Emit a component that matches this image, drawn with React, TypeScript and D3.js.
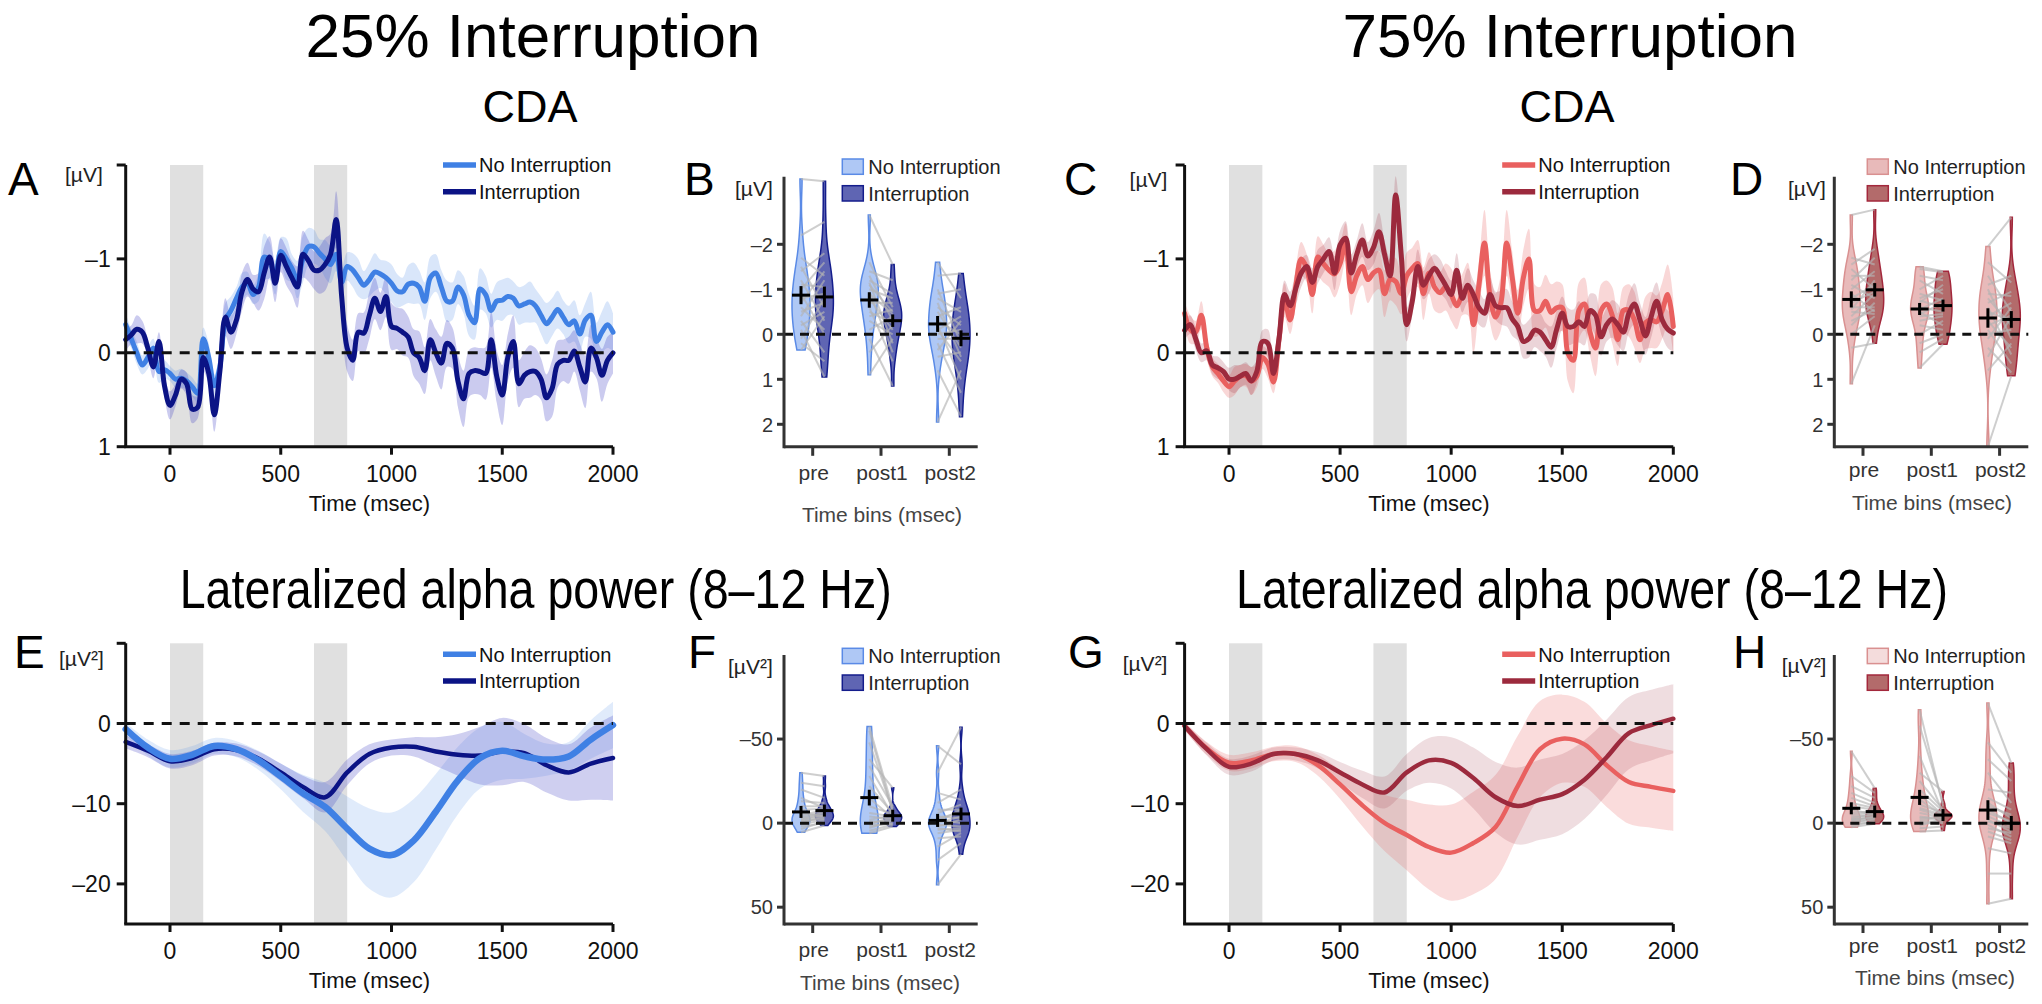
import React from 'react';
import * as d3 from 'd3';

const FONT = "'Liberation Sans', Arial, Helvetica, sans-serif";

// ---------------- axes / labels ----------------
const CDA_TIME = d3.range(-200, 2001, 25);
const ALPHA_TIME = d3.range(-200, 2001, 100);
const TIME_TICKS = [0, 500, 1000, 1500, 2000];
const SHADED_WINDOWS = [[0, 150], [650, 800]];
const BIN_LABELS = ['pre', 'post1', 'post2'];
const LEGEND_LABELS = ['No Interruption', 'Interruption'];
const CDA_Y_LABELS = [-1, 0, 1];
const CDA_Y_MARKS = [-2, -1, 0, 1];
const ALPHA_Y_LABELS = [0, -10, -20];
const ALPHA_Y_MARKS = [10, 0, -10, -20];
const CDA_BIN_TICKS = [-2, -1, 0, 1, 2];
const ALPHA_BIN_TICKS = [-50, 0, 50];

// ---------------- CDA time courses (µV, 25 ms steps from -200 to 2000) ----------------
const CDA25_NOINT = [
  -0.30, -0.15, 0.00, 0.13, 0.05, -0.05, 0.20, 0.18,
  0.22, 0.28, 0.27, 0.30, 0.36, 0.43, -0.15, 0.05,
  0.35, 0.15, -0.35, -0.45, -0.58, -0.70, -0.74, -0.62,
  -0.70, -1.02, -0.98, -0.80, -1.08, -1.00, -0.90, -0.78,
  -1.00, -1.13, -1.13, -1.06, -1.00, -0.94, -1.05, -0.75,
  -0.92, -0.88, -0.80, -0.72, -0.78, -0.86, -0.84, -0.80,
  -0.74, -0.66, -0.65, -0.73, -0.74, -0.70, -0.55, -0.80,
  -0.85, -0.70, -0.55, -0.55, -0.70, -0.62, -0.40, -0.32,
  -0.68, -0.62, -0.45, -0.55, -0.56, -0.60, -0.58, -0.50,
  -0.52, -0.54, -0.50, -0.40, -0.31, -0.38, -0.46, -0.38,
  -0.30, -0.34, -0.20, -0.35, -0.40, -0.12, -0.22, -0.30,
  -0.22,
];
const CDA25_NOINT_SE = [
  0.12, 0.10, 0.12, 0.10, 0.12, 0.10, 0.12, 0.10,
  0.08, 0.09, 0.10, 0.09, 0.10, 0.10, 0.12, 0.15,
  0.12, 0.15, 0.18, 0.15, 0.12, 0.15, 0.12, 0.10,
  0.15, 0.25, 0.20, 0.18, 0.15, 0.22, 0.15, 0.20,
  0.25, 0.20, 0.18, 0.15, 0.20, 0.20, 0.18, 0.15,
  0.15, 0.18, 0.20, 0.15, 0.18, 0.20, 0.15, 0.18,
  0.20, 0.18, 0.15, 0.20, 0.22, 0.18, 0.20, 0.22,
  0.20, 0.18, 0.22, 0.20, 0.18, 0.20, 0.22, 0.18,
  0.22, 0.20, 0.18, 0.20, 0.22, 0.20, 0.18, 0.20,
  0.20, 0.22, 0.18, 0.20, 0.22, 0.20, 0.20, 0.18,
  0.20, 0.22, 0.20, 0.18, 0.25, 0.20, 0.22, 0.25,
  0.20,
];
const CDA25_INT = [
  -0.14, -0.19, -0.25, -0.22, -0.05, 0.15, -0.12, 0.35,
  0.56, 0.45, 0.28, 0.33, 0.60, 0.58, 0.05, 0.22,
  0.66, 0.20, -0.38, -0.22, -0.35, -0.65, -0.78, -0.68,
  -0.65, -0.85, -1.02, -0.74, -1.04, -0.92, -0.80, -0.70,
  -1.05, -0.98, -0.88, -0.88, -0.94, -1.05, -1.42, -0.60,
  -0.05, 0.08, -0.22, -0.21, -0.40, -0.58, -0.44, -0.60,
  -0.28, -0.26, -0.22, -0.17, 0.00, 0.05, 0.19, -0.14,
  0.00, 0.11, -0.10, -0.05, 0.30, 0.49, 0.22, 0.19,
  0.20, 0.22, -0.14, 0.25, 0.45, 0.05, -0.12, 0.33,
  0.24, 0.20, 0.20, 0.28, 0.48, 0.38, 0.12, 0.08,
  0.08, -0.02, 0.15, 0.31, -0.05, 0.05, 0.24, 0.08,
  0.00,
];
const CDA25_INT_SE = [
  0.12, 0.10, 0.15, 0.12, 0.10, 0.12, 0.10, 0.12,
  0.15, 0.12, 0.10, 0.12, 0.15, 0.12, 0.15, 0.12,
  0.18, 0.15, 0.20, 0.18, 0.15, 0.20, 0.18, 0.15,
  0.20, 0.28, 0.22, 0.20, 0.18, 0.20, 0.18, 0.22,
  0.25, 0.22, 0.20, 0.25, 0.28, 0.22, 0.30, 0.25,
  0.25, 0.22, 0.20, 0.22, 0.25, 0.22, 0.20, 0.22,
  0.25, 0.22, 0.25, 0.22, 0.25, 0.28, 0.25, 0.22,
  0.25, 0.28, 0.25, 0.22, 0.28, 0.30, 0.25, 0.25,
  0.25, 0.28, 0.30, 0.28, 0.32, 0.25, 0.28, 0.25,
  0.25, 0.28, 0.25, 0.22, 0.25, 0.30, 0.25, 0.22,
  0.25, 0.22, 0.25, 0.28, 0.25, 0.22, 0.28, 0.25,
  0.22,
];
const CDA75_NOINT = [
  -0.42, -0.25, -0.22, -0.40, -0.05, 0.15, 0.22, 0.30,
  0.36, 0.30, 0.25, 0.24, 0.30, 0.25, 0.05, 0.12,
  0.31, -0.14, -0.56, -0.35, -0.70, -1.00, -0.90, -0.62,
  -1.02, -0.95, -0.88, -0.84, -0.95, -1.18, -0.65, -0.82,
  -0.92, -0.78, -0.85, -0.88, -0.63, -0.78, -0.76, -0.63,
  -0.82, -0.90, -0.95, -0.63, -0.85, -0.70, -0.64, -0.70,
  -0.62, -0.50, -0.62, -0.68, -0.30, -0.72, -1.17, -0.60,
  -0.38, -0.55, -1.17, -0.80, -0.42, -0.80, -1.00, -0.45,
  -0.45, -0.55, -0.43, -0.48, -0.48, 0.00, 0.08, -0.45,
  -0.52, -0.22, -0.05, -0.45, -0.52, -0.40, -0.14, -0.45,
  -0.45, -0.35, -0.14, -0.32, -0.35, -0.33, -0.45, -0.62,
  -0.28,
];
const CDA75_NOINT_SE = [
  0.12, 0.15, 0.12, 0.15, 0.12, 0.10, 0.10, 0.12,
  0.12, 0.15, 0.12, 0.12, 0.15, 0.12, 0.12, 0.15,
  0.12, 0.15, 0.18, 0.15, 0.20, 0.18, 0.15, 0.20,
  0.22, 0.20, 0.18, 0.25, 0.22, 0.20, 0.25, 0.20,
  0.20, 0.25, 0.22, 0.20, 0.25, 0.22, 0.25, 0.22,
  0.25, 0.22, 0.25, 0.28, 0.22, 0.25, 0.22, 0.25,
  0.28, 0.25, 0.22, 0.28, 0.30, 0.25, 0.35, 0.28,
  0.25, 0.30, 0.35, 0.28, 0.25, 0.30, 0.32, 0.28,
  0.25, 0.28, 0.30, 0.28, 0.25, 0.30, 0.35, 0.30,
  0.28, 0.25, 0.30, 0.28, 0.25, 0.30, 0.28, 0.25,
  0.28, 0.30, 0.25, 0.28, 0.30, 0.28, 0.30, 0.32,
  0.30,
];
const CDA75_INT = [
  -0.24, -0.30, -0.15, 0.00, -0.02, 0.13, 0.16, 0.20,
  0.28, 0.28, 0.25, 0.22, 0.30, 0.20, -0.12, -0.10,
  0.22, -0.15, -0.62, -0.50, -0.68, -0.85, -0.92, -0.75,
  -0.92, -1.00, -1.08, -0.85, -1.15, -1.22, -0.85, -1.05,
  -1.20, -1.03, -1.12, -1.29, -1.05, -0.82, -1.68, -1.05,
  -0.30, -0.55, -0.92, -0.72, -0.82, -0.90, -0.82, -0.72,
  -0.62, -0.88, -0.58, -0.72, -0.62, -0.48, -0.42, -0.62,
  -0.50, -0.48, -0.48, -0.36, -0.28, -0.12, -0.15, -0.24,
  -0.22, -0.14, -0.06, -0.25, -0.42, -0.28, -0.28, -0.33,
  -0.28, -0.45, -0.40, -0.17, -0.30, -0.36, -0.30, -0.22,
  -0.42, -0.52, -0.35, -0.18, -0.38, -0.55, -0.35, -0.25,
  -0.21,
];
const CDA75_INT_SE = [
  0.10, 0.10, 0.12, 0.10, 0.10, 0.10, 0.12, 0.10,
  0.12, 0.15, 0.12, 0.12, 0.15, 0.12, 0.12, 0.15,
  0.12, 0.12, 0.15, 0.15, 0.18, 0.15, 0.12, 0.15,
  0.18, 0.15, 0.15, 0.18, 0.15, 0.18, 0.20, 0.15,
  0.18, 0.15, 0.18, 0.20, 0.15, 0.18, 0.20, 0.22,
  0.18, 0.15, 0.18, 0.15, 0.18, 0.15, 0.18, 0.15,
  0.15, 0.18, 0.15, 0.18, 0.15, 0.18, 0.15, 0.18,
  0.15, 0.18, 0.20, 0.18, 0.15, 0.18, 0.20, 0.18,
  0.20, 0.18, 0.22, 0.20, 0.18, 0.20, 0.18, 0.22,
  0.20, 0.18, 0.22, 0.20, 0.18, 0.20, 0.22, 0.20,
  0.20, 0.22, 0.18, 0.20, 0.22, 0.20, 0.18, 0.20,
  0.20,
];

// ---------------- lateralized alpha power (µV², 100 ms steps from -200 to 2000) ----------------
const ALPHA25_NOINT = [-0.7, -3.0, -4.4, -3.9, -2.8, -3.2, -4.6, -6.6, -8.7, -10.4, -13.1, -15.6, -16.4, -14.6, -11.0, -7.1, -4.3, -3.4, -4.1, -4.5, -4.1, -2.0, -0.2];
const ALPHA25_NOINT_SE = [0.8, 1.0, 1.1, 1.1, 1.0, 1.0, 1.2, 1.6, 2.3, 3.0, 4.0, 5.0, 5.3, 5.2, 4.7, 4.2, 3.8, 3.6, 2.8, 2.0, 1.8, 2.4, 2.9];
const ALPHA25_INT = [-2.3, -3.4, -4.7, -4.3, -3.2, -3.3, -4.4, -6.1, -7.9, -9.2, -6.1, -3.8, -3.0, -2.9, -3.5, -3.9, -4.0, -3.5, -3.7, -5.2, -6.1, -5.0, -4.3];
const ALPHA25_INT_SE = [0.8, 0.8, 0.9, 0.9, 0.8, 0.8, 0.9, 1.1, 1.4, 1.9, 1.6, 1.2, 1.0, 1.2, 1.8, 2.6, 3.6, 4.2, 3.6, 3.4, 3.5, 4.5, 5.3];
const ALPHA75_NOINT = [-0.3, -3.1, -4.9, -4.6, -3.8, -3.8, -5.2, -7.6, -10.2, -12.4, -13.9, -15.4, -16.1, -14.9, -12.9, -7.8, -3.2, -1.9, -2.6, -5.2, -7.3, -7.9, -8.4];
const ALPHA75_NOINT_SE = [0.5, 0.8, 1.0, 1.0, 0.9, 1.0, 1.3, 1.8, 2.6, 3.5, 4.4, 5.3, 6.0, 6.4, 6.5, 6.3, 6.0, 5.5, 5.3, 5.2, 5.2, 5.1, 5.0];
const ALPHA75_INT = [-0.3, -3.2, -5.4, -5.0, -3.8, -3.8, -4.6, -6.1, -7.6, -8.6, -6.1, -4.6, -4.9, -6.8, -9.2, -10.3, -9.5, -8.8, -7.0, -4.2, -1.2, -0.2, 0.6];
const ALPHA75_INT_SE = [0.5, 0.8, 1.0, 1.0, 0.8, 0.8, 1.0, 1.3, 1.7, 2.0, 2.3, 2.8, 3.2, 3.8, 4.4, 4.8, 5.0, 5.0, 4.9, 4.7, 4.5, 4.4, 4.3];

// ---------------- per-subject bin averages (paired by index) ----------------
const CDA25_PRE_NOINT = [-3.45, -2.2, -1.7, -1.5, -1.4, -1.2, -1.1, -1.0, -0.9, -0.8, -0.7, -0.6, -0.5, -0.4, -0.3, -0.2, -0.1, 0.1, 0.2, 0.35];
const CDA25_PRE_INT = [-3.4, -2.5, -1.3, -0.6, -1.8, -0.3, -1.05, -1.6, 0.0, -0.9, -1.4, -0.1, -0.7, -1.2, 0.4, -0.5, 0.95, -0.8, 0.6, -0.4];
const CDA25_POST1_NOINT = [-2.65, -1.6, -1.4, -1.3, -1.2, -1.15, -1.1, -1.0, -0.95, -0.9, -0.8, -0.7, -0.6, -0.5, -0.4, -0.3, -0.1, 0.1, 0.4, 0.9];
const CDA25_POST1_INT = [-1.55, -0.6, -1.2, -0.3, -0.9, 0.2, -0.5, -0.8, 0.4, -0.45, -0.1, -0.7, 0.6, -0.25, -0.55, 0.0, -0.4, 1.15, -0.2, 0.1];
const CDA25_POST2_NOINT = [-1.6, -1.3, -1.0, -0.9, -0.8, -0.7, -0.6, -0.5, -0.4, -0.3, -0.2, -0.1, -0.1, 0.0, 0.1, 0.2, 0.35, 0.5, 0.8, 1.95];
const CDA25_POST2_INT = [-0.8, -1.35, 0.2, -1.0, -0.5, 0.5, -0.2, 0.3, -0.6, 0.0, 1.0, -0.4, 0.6, -0.1, 0.1, 1.3, -0.3, 0.4, 1.83, 0.8];

const CDA75_PRE_NOINT = [-2.65, -1.7, -1.55, -1.45, -1.3, -1.2, -1.1, -1.0, -0.9, -0.8, -0.7, -0.6, -0.55, -0.5, -0.4, -0.3, -0.2, 0.0, 0.3, 1.1];
const CDA75_PRE_INT = [-2.77, -1.55, -1.9, -1.0, -1.3, -1.7, -0.8, -1.4, -0.5, -1.1, -0.95, -0.6, -1.2, -0.45, -0.9, -0.55, -0.7, -0.4, 0.2, -0.2];
const CDA75_POST1_NOINT = [-1.5, -1.45, -1.3, -1.2, -1.0, -0.9, -0.8, -0.75, -0.7, -0.6, -0.55, -0.5, -0.45, -0.4, -0.3, -0.2, 0.0, 0.2, 0.4, 0.75];
const CDA75_POST1_INT = [-1.4, -1.38, -1.2, -0.9, -1.3, -0.75, -1.0, -0.6, -1.1, -0.5, -0.8, -0.2, -0.7, -0.45, -0.4, -0.1, -0.3, 0.0, 0.1, 0.22];
const CDA75_POST2_NOINT = [-1.95, -1.6, -1.3, -1.1, -1.0, -0.9, -0.8, -0.7, -0.6, -0.5, -0.4, -0.3, -0.2, -0.1, 0.0, 0.1, 0.3, 0.5, 0.8, 2.5];
const CDA75_POST2_INT = [-2.6, -1.15, -0.5, -1.3, 0.1, -0.85, -0.2, -0.95, 0.45, -0.3, -0.7, 0.3, -0.42, 0.65, -0.1, -0.6, 0.85, -0.4, 0.2, 0.92];

const ALPHA25_PRE_NOINT = [-30, -24, -20, -15, -13, -10, -8, -6, -5, -4, -3, -2.5, -2, -1.5, -1, 0, 1, 2, 3.5, 5.4];
const ALPHA25_PRE_INT = [-28, -22, -15, -9, -12, -10, -8.5, -4, -7.5, -6.5, -6, -5, -4.5, -3, -2.5, -4, -2, 0, -1, 1.4];
const ALPHA25_POST1_NOINT = [-57.5, -55, -48, -38, -34, -28, -22, -15, -10, -6, -4, -2, -1, 0, 0.5, 1, 2, 3, 4.5, 6];
const ALPHA25_POST1_INT = [-9, -6.5, -7.5, -21, -10, -4.5, -6, -3, -5.5, -4, -2.5, -4.5, -1, -2, -3.5, 0.5, 0, -1.5, 1, 2];
const ALPHA25_POST2_NOINT = [-46, -30, -18, -12, -8, -6, -4, -3, -2, -1, 0, 1, 2, 3, 4, 6, 9, 14, 22, 36.7];
const ALPHA25_POST2_INT = [-35, -57, -14, -20, -8, -11, -3, -6, 0, -8, -4, 2, -2, 5, 3, 4, 8, 6, 12, 18.5];

const ALPHA75_PRE_NOINT = [-42.7, -28, -22, -18, -15, -12, -10, -8, -6, -5, -4, -3, -2.5, -2, -1.5, -1, 0, 0.5, 1.5, 2.4];
const ALPHA75_PRE_INT = [-20.8, -18, -15, -12, -10, -9, -8, -5, -7, -6, -4.5, -5.5, -3, -4, -3.5, -2, -2.5, -0.5, -1, 0.4];
const ALPHA75_POST1_NOINT = [-67.5, -58, -40, -30, -25, -20, -17, -14, -11, -9, -8, -6, -4, -3, -2, -1, 0, 1.5, 3, 5];
const ALPHA75_POST1_INT = [-10, -12, -6, -18.8, -8, -7, -5, -4.5, -6, -5, -4, -3.5, -2, -4, -3, -1, 0, -2.5, 2, 4.4];
const ALPHA75_POST2_NOINT = [-71.4, -48, -38, -30, -20, -15, -12, -10, -8, -6, -4, -2, -1, 1, 3, 5, 8, 15, 30, 48];
const ALPHA75_POST2_INT = [-35.7, -30, -25, -12, -18, -8, -3, -5, 0, -1, 2, 5, 3, 8, 6, 10, 12, 18, 30, 45];

// ---------------- colours ----------------
const BLUE_LIGHT = '#3f80e4';
const BLUE_DARK = '#0b1385';
const BLUE_BAND = '#4646c4';
const RED_LIGHT = '#e9605f';
const RED_DARK = '#9c2a3d';

const curve = d3.curveCatmullRom.alpha(0.5);

function LinePanel(p: any) {
  const x = d3.scaleLinear().domain([-200, 2000]).range([p.x0, p.x1]);
  const y = d3.scaleLinear().domain(p.yDomain).range([p.yTop, p.yBot]);
  const band = (s: any) =>
    d3.area<number>()
      .x((_, i) => x(s.time[i]))
      .y0((d, i) => y(d - s.se[i]))
      .y1((d, i) => y(d + s.se[i]))
      .curve(curve)(s.mean);
  const line = (s: any) =>
    d3.line<number>()
      .x((_, i) => x(s.time[i]))
      .y((d) => y(d))
      .curve(curve)(s.mean);
  const axisColor = '#111';
  return (
    <g fontFamily={FONT}>
      {SHADED_WINDOWS.map(([a, b], i) => (
        <rect key={i} x={x(a)} y={p.yTop} width={x(b) - x(a)} height={p.yBot - p.yTop} fill="#e0e0e0" />
      ))}
      {p.series.map((s: any, i: number) => (
        <path key={'b' + i} d={band(s) || ''} fill={s.bandColor || s.color} fillOpacity={s.bandOpacity} stroke="none" />
      ))}
      {p.order.map((i: number) => {
        const s = p.series[i];
        return <path key={'l' + i} d={line(s) || ''} fill="none" stroke={s.color} strokeWidth={s.width} strokeLinejoin="round" strokeLinecap="round" />;
      })}
      <line x1={p.x0} x2={p.x1} y1={y(0)} y2={y(0)} stroke="#111" strokeWidth={3} strokeDasharray="10,8" />
      <line x1={p.x0} x2={p.x0} y1={p.yTop} y2={p.yBot} stroke={axisColor} strokeWidth={3} />
      <line x1={p.x0 - 1.5} x2={p.x1} y1={p.yBot} y2={p.yBot} stroke={axisColor} strokeWidth={3} />
      {p.yMarks.map((v: number) => (
        <line key={'ym' + v} x1={p.x0 - 9} x2={p.x0} y1={y(v)} y2={y(v)} stroke={axisColor} strokeWidth={3} />
      ))}
      {p.yLabels.map((v: number) => (
        <text key={'yl' + v} x={p.x0 - 15} y={y(v)} dy="0.36em" textAnchor="end" fontSize={23} fill="#111">
          {v < 0 ? '\u2013' + Math.abs(v) : String(v)}
        </text>
      ))}
      {TIME_TICKS.map((t) => (
        <g key={'xt' + t}>
          <line x1={x(t)} x2={x(t)} y1={p.yBot} y2={p.yBot + 8} stroke={axisColor} strokeWidth={3} />
          <text x={x(t)} y={p.yBot + 35} textAnchor="middle" fontSize={23} fill="#111">{t}</text>
        </g>
      ))}
      <text x={(p.x0 + p.x1) / 2} y={p.yBot + 64} textAnchor="middle" fontSize={22} fill="#111">Time (msec)</text>
      <text x={p.letterX} y={p.letterY} fontSize={46} fill="#000">{p.letter}</text>
      <text x={p.unitX} y={p.unitY} dy="0.36em" fontSize={21} fill="#222">{p.unit}</text>
      {p.series.map((s: any, i: number) => (
        <g key={'lg' + i}>
          <line x1={p.legendX} x2={p.legendX + 33} y1={p.legendY + i * 26.7} y2={p.legendY + i * 26.7} stroke={s.color} strokeWidth={5.5} />
          <text x={p.legendX + 36} y={p.legendY + i * 26.7} dy="0.36em" fontSize={20} fill="#111">{LEGEND_LABELS[i]}</text>
        </g>
      ))}
    </g>
  );
}

function violinPath(values: number[], cx: number, y: any, halfMax: number) {
  const sorted = values.slice().sort(d3.ascending);
  const n = sorted.length;
  const sd = d3.deviation(sorted) || 1;
  const iqr = (d3.quantile(sorted, 0.75) as number) - (d3.quantile(sorted, 0.25) as number);
  const bw = 0.9 * Math.min(sd, iqr / 1.34) * Math.pow(n, -0.2);
  const lo = sorted[0];
  const hi = sorted[n - 1];
  const grid = d3.range(0, 101).map((i) => lo + ((hi - lo) * i) / 100);
  const dens = grid.map((g) => d3.mean(sorted, (v) => Math.exp(-0.5 * ((g - v) / bw) ** 2)) as number);
  const w = d3.scaleLinear().domain([0, d3.max(dens) as number]).range([0, halfMax]);
  return d3.area<number>()
    .y((_, i) => y(grid[i]))
    .x0((d) => cx - w(d))
    .x1((d) => cx + w(d))
    .curve(d3.curveLinear)(dens) || '';
}

function ViolinPanel(p: any) {
  const y = d3.scaleLinear().domain(p.yDomain).range([p.yTop, p.yBot]);
  const xc = d3.scalePoint<string>().domain(BIN_LABELS).range([p.axisX + 28.7, p.axisX + 165.3]);
  const off = 11.7;
  const axisColor = '#333';
  return (
    <g fontFamily={FONT}>
      {p.groups.map((g: any, gi: number) => {
        const c = xc(BIN_LABELS[gi]) as number;
        return (
          <g key={'v' + gi}>
            <path d={violinPath(g[0], c - off, y, 9)} fill={p.fills[0]} fillOpacity={p.fillOpacity[0]} stroke={p.strokes[0]} strokeWidth={1.5} />
            <path d={violinPath(g[1], c + off, y, 9)} fill={p.fills[1]} fillOpacity={p.fillOpacity[1]} stroke={p.strokes[1]} strokeWidth={1.5} />
          </g>
        );
      })}
      {p.groups.map((g: any, gi: number) => {
        const c = xc(BIN_LABELS[gi]) as number;
        return (
          <g key={'s' + gi}>
            {g[0].map((v: number, i: number) => (
              <line key={i} x1={c - off} x2={c + off} y1={y(v)} y2={y(g[1][i])} stroke="#b4b4b4" strokeOpacity={0.65} strokeWidth={2} />
            ))}
          </g>
        );
      })}
      <line x1={p.axisX} x2={p.axisR} y1={y(0)} y2={y(0)} stroke="#111" strokeWidth={3} strokeDasharray="9,7" />
      {p.groups.map((g: any, gi: number) => {
        const c = xc(BIN_LABELS[gi]) as number;
        return (
          <g key={'m' + gi}>
            {[0, 1].map((k) => {
              const vals = g[k];
              const m = d3.mean(vals) as number;
              const se = (d3.deviation(vals) as number) / Math.sqrt(vals.length);
              const cx = c + (k === 0 ? -off : off);
              const half = Math.max(Math.abs(y(m + se) - y(m)), 6);
              return (
                <g key={k}>
                  <line x1={cx - 9} x2={cx + 9} y1={y(m)} y2={y(m)} stroke="#000" strokeWidth={3} />
                  <line x1={cx} x2={cx} y1={y(m) - half} y2={y(m) + half} stroke="#000" strokeWidth={3} />
                </g>
              );
            })}
          </g>
        );
      })}
      <line x1={p.axisX} x2={p.axisX} y1={p.yTop} y2={p.yBot + 1.5} stroke={axisColor} strokeWidth={3} />
      <line x1={p.axisX} x2={p.axisR} y1={p.yBot} y2={p.yBot} stroke={axisColor} strokeWidth={3} />
      {p.yTicks.map((v: number) => (
        <g key={'yt' + v}>
          <line x1={p.axisX - 7} x2={p.axisX} y1={y(v)} y2={y(v)} stroke={axisColor} strokeWidth={3} />
          <text x={p.axisX - 11} y={y(v)} dy="0.36em" textAnchor="end" fontSize={20} fill="#333">
            {v < 0 ? '\u2013' + Math.abs(v) : String(v)}
          </text>
        </g>
      ))}
      {BIN_LABELS.map((b) => (
        <g key={b}>
          <line x1={xc(b)} x2={xc(b)} y1={p.yBot} y2={p.yBot + 9} stroke={axisColor} strokeWidth={3} />
          <text x={(xc(b) as number) + 1} y={p.yBot + p.catDy} textAnchor="middle" fontSize={21} fill="#333">{b}</text>
        </g>
      ))}
      <text x={p.titleX} y={p.yBot + p.titleDy} textAnchor="middle" fontSize={21} fill="#444">Time bins (msec)</text>
      <text x={p.letterX} y={p.letterY} fontSize={46} fill="#000">{p.letter}</text>
      <text x={p.unitX} y={p.unitY} dy="0.36em" fontSize={21} fill="#222">{p.unit}</text>
      {[0, 1].map((k) => (
        <g key={'lg' + k}>
          <rect x={p.legendX} y={p.legendY + k * 26.7} width={21} height={15.3} fill={p.fills[k]} fillOpacity={p.legendOpacity[k]} stroke={p.strokes[k]} strokeWidth={1.5} />
          <text x={p.legendX + 26} y={p.legendY + k * 26.7 + 7.6} dy="0.36em" fontSize={20} fill="#222">{LEGEND_LABELS[k]}</text>
        </g>
      ))}
    </g>
  );
}

export default function App() {
  const cdaY = { yTop: 165, yBot: 446.7, yDomain: [-2, 1], yMarks: CDA_Y_MARKS, yLabels: CDA_Y_LABELS };
  const alphaY = { yTop: 643.3, yBot: 924, yDomain: [10, -25], yMarks: ALPHA_Y_MARKS, yLabels: ALPHA_Y_LABELS };
  const binCdaY = { yTop: 176.8, yBot: 446.8, yDomain: [-3.5, 2.5], yTicks: CDA_BIN_TICKS };
  const binAlphaY = { yTop: 655, yBot: 924, yDomain: [-100, 60], yTicks: ALPHA_BIN_TICKS };

  const blueViolin = { fills: ['#6d9bec', '#2a3199'], fillOpacity: [0.55, 0.75], legendOpacity: [0.55, 0.75], strokes: ['#5a8ae6', '#141d8c'] };
  const redViolin = { fills: ['#d98c8c', '#9a3a3a'], fillOpacity: [0.6, 0.75], legendOpacity: [0.6, 0.75], strokes: ['#d99090', '#a3283c'] };
  const redViolinH = { ...redViolin, legendOpacity: [0.3, 0.75] };

  return (
    <svg width={2042} height={1004} style={{ position: 'absolute', left: 0, top: 0, background: '#fff' }}>
      <rect x={0} y={0} width={2042} height={1004} fill="#fff" />
      <g fontFamily={FONT} fill="#000" textAnchor="middle">
        <text x={533} y={57} fontSize={62}>25% Interruption</text>
        <text x={1570} y={57} fontSize={62}>75% Interruption</text>
        <text x={530} y={121.7} fontSize={45}>CDA</text>
        <text x={1567} y={121.7} fontSize={45}>CDA</text>
        <text x={535.7} y={608} fontSize={55} textLength={712} lengthAdjust="spacingAndGlyphs">Lateralized alpha power (8–12 Hz)</text>
        <text x={1592} y={608} fontSize={55} textLength={712} lengthAdjust="spacingAndGlyphs">Lateralized alpha power (8–12 Hz)</text>
      </g>

      <LinePanel
        {...cdaY}
        x0={125.7} x1={613}
        series={[
          { time: CDA_TIME, mean: CDA25_NOINT, se: CDA25_NOINT_SE, color: BLUE_LIGHT, bandOpacity: 0.2, width: 5 },
          { time: CDA_TIME, mean: CDA25_INT, se: CDA25_INT_SE, color: BLUE_DARK, bandColor: BLUE_BAND, bandOpacity: 0.28, width: 5 },
        ]}
        order={[0, 1]}
        letter="A" letterX={8} letterY={195}
        unit="[µV]" unitX={65} unitY={174}
        legendX={443} legendY={165}
      />
      <LinePanel
        {...cdaY}
        x0={1184.6} x1={1673.3}
        series={[
          { time: CDA_TIME, mean: CDA75_NOINT, se: CDA75_NOINT_SE, color: RED_LIGHT, bandOpacity: 0.25, width: 5 },
          { time: CDA_TIME, mean: CDA75_INT, se: CDA75_INT_SE, color: RED_DARK, bandOpacity: 0.2, width: 5 },
        ]}
        order={[0, 1]}
        letter="C" letterX={1064} letterY={195}
        unit="[µV]" unitX={1129.6} unitY={179}
        legendX={1502.2} legendY={165}
      />
      <LinePanel
        {...alphaY}
        x0={125.7} x1={613}
        series={[
          { time: ALPHA_TIME, mean: ALPHA25_NOINT, se: ALPHA25_NOINT_SE, color: BLUE_LIGHT, bandOpacity: 0.16, width: 6.5 },
          { time: ALPHA_TIME, mean: ALPHA25_INT, se: ALPHA25_INT_SE, color: BLUE_DARK, bandColor: BLUE_BAND, bandOpacity: 0.26, width: 4.5 },
        ]}
        order={[1, 0]}
        letter="E" letterX={14} letterY={668}
        unit="[µV²]" unitX={59} unitY={658}
        legendX={443} legendY={654.3}
      />
      <LinePanel
        {...alphaY}
        x0={1184.6} x1={1673.3}
        series={[
          { time: ALPHA_TIME, mean: ALPHA75_NOINT, se: ALPHA75_NOINT_SE, color: RED_LIGHT, bandOpacity: 0.22, width: 4.5 },
          { time: ALPHA_TIME, mean: ALPHA75_INT, se: ALPHA75_INT_SE, color: RED_DARK, bandOpacity: 0.16, width: 4.5 },
        ]}
        order={[0, 1]}
        letter="G" letterX={1068} letterY={668}
        unit="[µV²]" unitX={1122.7} unitY={663}
        legendX={1502.2} legendY={654.3}
      />

      <ViolinPanel
        {...binCdaY} {...blueViolin}
        axisX={784} axisR={977.7}
        groups={[[CDA25_PRE_NOINT, CDA25_PRE_INT], [CDA25_POST1_NOINT, CDA25_POST1_INT], [CDA25_POST2_NOINT, CDA25_POST2_INT]]}
        catDy={33} titleX={882} titleDy={75}
        letter="B" letterX={684} letterY={195}
        unit="[µV]" unitX={735} unitY={188}
        legendX={842.3} legendY={159}
      />
      <ViolinPanel
        {...binCdaY} {...redViolin}
        axisX={1834.3} axisR={2028.3}
        groups={[[CDA75_PRE_NOINT, CDA75_PRE_INT], [CDA75_POST1_NOINT, CDA75_POST1_INT], [CDA75_POST2_NOINT, CDA75_POST2_INT]]}
        catDy={30} titleX={1932} titleDy={63}
        letter="D" letterX={1730} letterY={195}
        unit="[µV]" unitX={1788} unitY={188}
        legendX={1867.3} legendY={159}
      />
      <ViolinPanel
        {...binAlphaY} {...blueViolin}
        axisX={784} axisR={977.7}
        groups={[[ALPHA25_PRE_NOINT, ALPHA25_PRE_INT], [ALPHA25_POST1_NOINT, ALPHA25_POST1_INT], [ALPHA25_POST2_NOINT, ALPHA25_POST2_INT]]}
        catDy={33} titleX={880} titleDy={66}
        letter="F" letterX={688} letterY={668}
        unit="[µV²]" unitX={728} unitY={666}
        legendX={842.3} legendY={648.3}
      />
      <ViolinPanel
        {...binAlphaY} {...redViolinH}
        axisX={1834.3} axisR={2028.3}
        groups={[[ALPHA75_PRE_NOINT, ALPHA75_PRE_INT], [ALPHA75_POST1_NOINT, ALPHA75_POST1_INT], [ALPHA75_POST2_NOINT, ALPHA75_POST2_INT]]}
        catDy={29} titleX={1935} titleDy={61}
        letter="H" letterX={1733} letterY={668}
        unit="[µV²]" unitX={1781.7} unitY={665}
        legendX={1867.3} legendY={648.3}
      />
    </svg>
  );
}
